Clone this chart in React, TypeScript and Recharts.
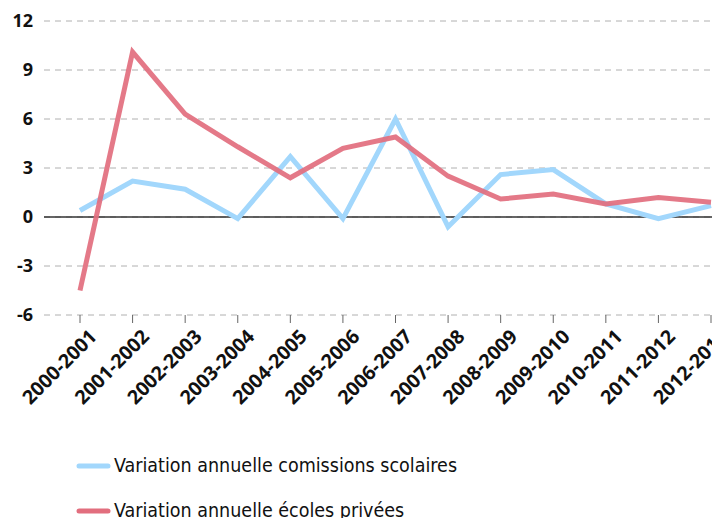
import React from "react";
import {
  CartesianGrid,
  Legend,
  Line,
  LineChart,
  ReferenceLine,
  XAxis,
  YAxis
} from "recharts";

const years = [
  "2000-2001",
  "2001-2002",
  "2002-2003",
  "2003-2004",
  "2004-2005",
  "2005-2006",
  "2006-2007",
  "2007-2008",
  "2008-2009",
  "2009-2010",
  "2010-2011",
  "2011-2012",
  "2012-2013"
];

const commissions = [0.4, 2.2, 1.7, -0.1, 3.7, -0.1, 6.0, -0.6, 2.6, 2.9, 0.8, -0.1, 0.7];
const privees = [-4.5, 10.1, 6.3, 4.3, 2.4, 4.2, 4.9, 2.5, 1.1, 1.4, 0.8, 1.2, 0.9];

const yTicks = [-6, -3, 0, 3, 6, 9, 12];

const BLUE = "#a2d7fc";
const RED = "#e26e7e";

const seriesNames = [
  "Variation annuelle comissions scolaires",
  "Variation annuelle écoles privées"
];

const data = years.map((year, i) => ({
  year,
  commissions: commissions[i],
  privees: privees[i]
}));

function XTick({ x, y, payload }: any) {
  return (
    <g transform={`translate(${x + 8},${y + 5})`}>
      <text
        transform="rotate(-45)"
        textAnchor="end"
        dy="0.72em"
        fill="#111"
        fontSize={19.5}
        fontWeight={700}
        fontFamily="'Open Sans', sans-serif"
      >
        {payload.value}
      </text>
    </g>
  );
}

function LegendBox() {
  const colors = [BLUE, RED];
  return (
    <div style={{ width: 712 }}>
      {seriesNames.map((name, i) => (
        <div
          key={name}
          style={{ display: "flex", alignItems: "center", height: 45, paddingLeft: 76 }}
        >
          <svg width={38} height={10}>
            <line
              x1={3}
              y1={5}
              x2={32}
              y2={5}
              stroke={colors[i]}
              strokeWidth={5}
              strokeLinecap="round"
            />
          </svg>
          <span
            style={{
              fontFamily: "'Liberation Sans Narrow', 'DejaVu Sans Condensed', sans-serif",
              fontSize: 19.5,
              color: "#111"
            }}
          >
            {name}
          </span>
        </div>
      ))}
    </div>
  );
}

export default function App() {
  return (
    <div style={{ position: "absolute", left: 0, top: 0, width: 712, height: 518, background: "#fff" }}>
      <LineChart
        width={712}
        height={518}
        data={data}
        margin={{ top: 21, right: 0, bottom: 0, left: 0 }}
      >
        <CartesianGrid
          vertical={false}
          stroke="#b0b0b0"
          strokeDasharray="6 5"
        />
        <XAxis
          dataKey="year"
          axisLine={false}
          tickLine={{ stroke: "#666" }}
          tickSize={8}
          tickMargin={0}
          interval={0}
          height={203}
          padding={{ left: 36, right: 1 }}
          tick={<XTick />}
        />
        <YAxis
          type="number"
          domain={[-6, 12]}
          ticks={yTicks}
          width={44}
          axisLine={false}
          tickLine={false}
          tickSize={0}
          tickMargin={11}
          tick={{
            fill: "#111",
            fontSize: 18,
            fontWeight: 700,
            fontFamily: "'Open Sans', sans-serif"
          }}
        />
        <ReferenceLine y={0} stroke="#333" strokeWidth={1.5} />
        <Line
          type="linear"
          dataKey="commissions"
          name={seriesNames[0]}
          stroke={BLUE}
          strokeWidth={5}
          dot={false}
          activeDot={false}
          isAnimationActive={false}
        />
        <Line
          type="linear"
          dataKey="privees"
          name={seriesNames[1]}
          stroke={RED}
          strokeWidth={5}
          strokeOpacity={0.92}
          dot={false}
          activeDot={false}
          isAnimationActive={false}
        />
        <Legend
          layout="horizontal"
          verticalAlign="middle"
          align="center"
          wrapperStyle={{ top: 443, left: 0 }}
          content={<LegendBox />}
        />
      </LineChart>
    </div>
  );
}
